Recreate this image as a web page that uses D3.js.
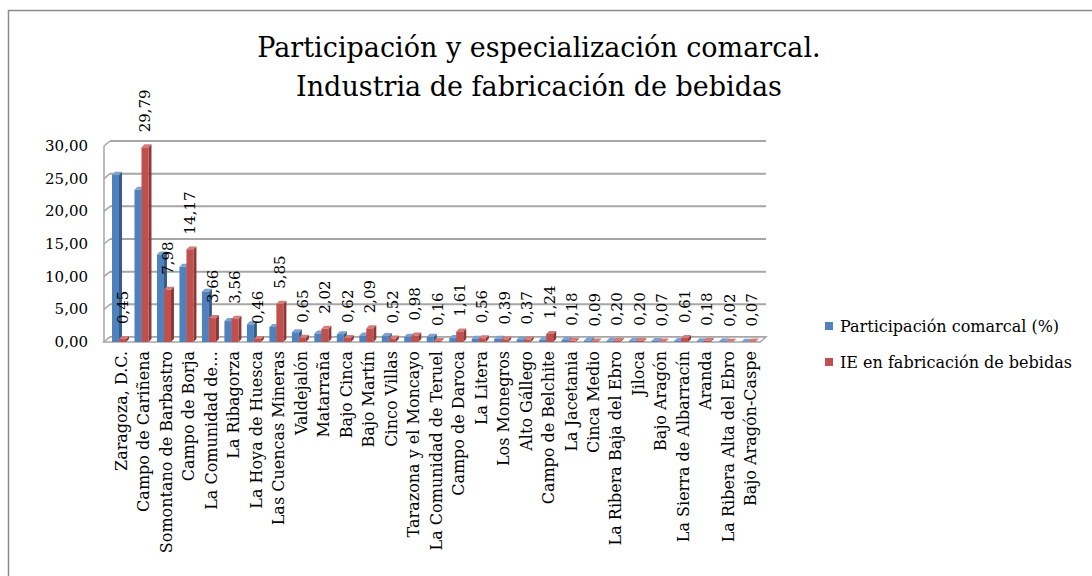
<!DOCTYPE html>
<html>
<head>
<meta charset="utf-8">
<script src="https://cdn.jsdelivr.net/npm/d3@7"></script>
<style>
  body { margin: 0; background: #fff; }
  svg { font-family: "DejaVu Serif", "Liberation Serif", serif; }
</style>
</head>
<body>
<div id="chart"></div>
<script>
// Datos
const comarcas = [
  "Zaragoza, D.C.", "Campo de Cariñena", "Somontano de Barbastro", "Campo de Borja",
  "La Comunidad de…", "La Ribagorza", "La Hoya de Huesca", "Las Cuencas Mineras",
  "Valdejalón", "Matarraña", "Bajo Cinca", "Bajo Martín", "Cinco Villas",
  "Tarazona y el Moncayo", "La Comunidad de Teruel", "Campo de Daroca", "La Litera",
  "Los Monegros", "Alto Gállego", "Campo de Belchite", "La Jacetania", "Cinca Medio",
  "La Ribera Baja del Ebro", "Jiloca", "Bajo Aragón", "La Sierra de Albarracín",
  "Aranda", "La Ribera Alta del Ebro", "Bajo Aragón-Caspe"
];
const participacion = [
  25.6, 23.3, 13.4, 11.5, 7.7, 3.2, 2.7, 2.3, 1.5, 1.3, 1.2, 1.0, 0.9,
  0.8, 0.8, 0.6, 0.5, 0.5, 0.4, 0.35, 0.3, 0.25, 0.2, 0.2, 0.15, 0.15,
  0.1, 0.1, 0.05
];
const especializacion = [
  0.45, 29.79, 7.98, 14.17, 3.66, 3.56, 0.46, 5.85, 0.65, 2.02, 0.62, 2.09, 0.52,
  0.98, 0.16, 1.61, 0.56, 0.39, 0.37, 1.24, 0.18, 0.09, 0.20, 0.20, 0.07, 0.61,
  0.18, 0.02, 0.07
];
const series = ["Participación comarcal (%)", "IE en fabricación de bebidas"];
const yTicks = [0, 5, 10, 15, 20, 25, 30];
const titulo = ["Participación y especialización comarcal.", "Industria de fabricación de bebidas"];

const W = 1092, H = 576;
const colores = {
  front: ["#4F81BD", "#C0504D"],
  side: ["#375C88", "#8E3835"],
  top: ["#7DA2D1", "#D47C79"]
};
const fmt = v => v.toFixed(2).replace(".", ",");

const svg = d3.select("#chart").append("svg")
  .attr("width", W).attr("height", H);

// Marco del gráfico
svg.append("rect")
  .attr("x", 8.5).attr("y", 10.5)
  .attr("width", 1200).attr("height", 700)
  .attr("fill", "#fff").attr("stroke", "#8c8c8c").attr("stroke-width", 1.5);

// Título
svg.append("g").selectAll("text")
  .data(titulo)
  .join("text")
    .attr("x", 539)
    .attr("y", (d, i) => 57 + i * 39)
    .attr("text-anchor", "middle")
    .style("font-size", "27px")
    .text(d => d);

// Escalas
const x = d3.scaleBand().domain(comarcas).range([108, 760]).paddingInner(0);
const xs = d3.scaleBand().domain([0, 1]).range([4, 18]);
const y = d3.scaleLinear().domain([0, 30]).range([342, 146]);
const dx = 6, dy = -5;     // profundidad de la pared
const bdx = 3, bdy = -3;   // profundidad de cada barra

// Pared y líneas de división
const grid = svg.append("g");
grid.selectAll("line.g")
  .data(yTicks)
  .join("line")
    .attr("x1", 104 + dx).attr("x2", 766)
    .attr("y1", d => y(d) + dy).attr("y2", d => y(d) + dy)
    .attr("stroke", "#a6a6a6").attr("stroke-width", 2);
grid.selectAll("line.s")
  .data(yTicks)
  .join("line")
    .attr("x1", 104).attr("x2", 104 + dx)
    .attr("y1", d => y(d)).attr("y2", d => y(d) + dy)
    .attr("stroke", "#a6a6a6").attr("stroke-width", 1.5);
grid.append("line")
  .attr("x1", 104).attr("x2", 104)
  .attr("y1", y(0)).attr("y2", y(30))
  .attr("stroke", "#a6a6a6").attr("stroke-width", 1.5);
// suelo
grid.append("path")
  .attr("d", `M104,${y(0)} L760,${y(0)} L766,${y(0) + dy} L${104 + dx},${y(0) + dy} Z`)
  .attr("fill", "#fff").attr("stroke", "#a6a6a6").attr("stroke-width", 1.5);

// Eje Y
svg.append("g").selectAll("text")
  .data(yTicks)
  .join("text")
    .attr("x", 88)
    .attr("y", d => y(d) + 5)
    .attr("text-anchor", "end")
    .style("font-size", "15px")
    .text(fmt);

// Barras 3D
const datos = [];
comarcas.forEach((c, i) => {
  datos.push({ c, s: 0, v: participacion[i] });
  datos.push({ c, s: 1, v: especializacion[i] });
});

const bars = svg.append("g").selectAll("g")
  .data(datos)
  .join("g");

bars.append("path")   // lado
  .attr("d", d => {
    const x0 = x(d.c) + xs(d.s) + xs.bandwidth(), y0 = y(d.v), y1 = y(0);
    return `M${x0},${y0} L${x0 + bdx},${y0 + bdy} L${x0 + bdx},${y1 + bdy} L${x0},${y1} Z`;
  })
  .attr("fill", d => colores.side[d.s]);
bars.append("path")   // cara superior
  .attr("d", d => {
    const x0 = x(d.c) + xs(d.s), x1 = x0 + xs.bandwidth(), y0 = y(d.v);
    return `M${x0},${y0} L${x0 + bdx},${y0 + bdy} L${x1 + bdx},${y0 + bdy} L${x1},${y0} Z`;
  })
  .attr("fill", d => colores.top[d.s]);
bars.append("rect")   // frente
  .attr("x", d => x(d.c) + xs(d.s))
  .attr("y", d => y(d.v))
  .attr("width", xs.bandwidth())
  .attr("height", d => y(0) - y(d.v))
  .attr("fill", d => colores.front[d.s]);

// Etiquetas de datos (serie IE)
svg.append("g").selectAll("text")
  .data(datos.filter(d => d.s === 1))
  .join("text")
    .attr("transform", d => {
      const cx = x(d.c) + xs(1) + xs.bandwidth() / 2;
      return `translate(${cx},${y(d.v) - 15}) rotate(-90)`;
    })
    .attr("dy", "0.35em")
    .style("font-size", "15px")
    .text(d => fmt(d.v));

// Etiquetas de categoría
svg.append("g").selectAll("text")
  .data(comarcas)
  .join("text")
    .attr("transform", d => `translate(${x(d) + x.bandwidth() / 2 + 2},351) rotate(-90)`)
    .attr("dy", "0.35em")
    .attr("text-anchor", "end")
    .style("font-size", "16px")
    .text(d => d);

// Leyenda
const leg = svg.append("g").attr("transform", "translate(825,322)");
leg.selectAll("rect")
  .data(series)
  .join("rect")
    .attr("x", 0).attr("y", (d, i) => i * 36)
    .attr("width", 8).attr("height", 8)
    .attr("fill", (d, i) => colores.front[i]);
leg.selectAll("text")
  .data(series)
  .join("text")
    .attr("x", 15).attr("y", (d, i) => i * 36 + 10)
    .style("font-size", "16px")
    .text(d => d);
</script>
</body>
</html>
